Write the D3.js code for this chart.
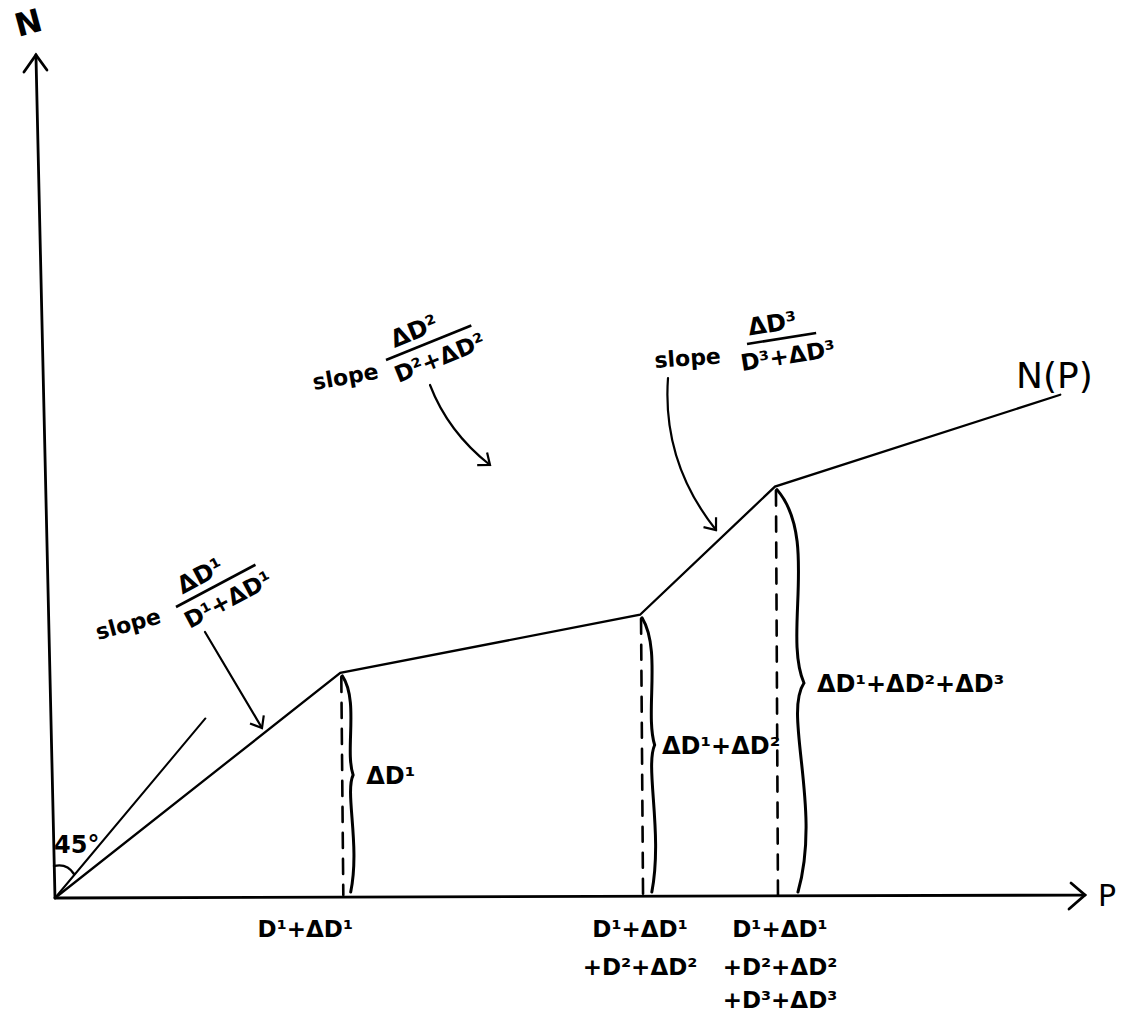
<!DOCTYPE html>
<html>
<head>
<meta charset="utf-8">
<title>N(P) sketch</title>
<script src="https://d3js.org/d3.v7.min.js"></script>
<style>
  body { margin: 0; background: #fff; }
  text { font-family: "DejaVu Sans", sans-serif; font-weight: bold; fill: #000; }
</style>
</head>
<body>
<div id="chart"></div>
<script>
// kink points of N(P), in chart units (P across, N up)
var kinkP = [0, 27.7, 56.8, 69.9, 97.6];
var kinkN = [0, 26.7, 33.6, 48.8, 59.7];
// the 45 degree guide line
var guideP = [0, 14.6];
var guideN = [0, 21.3];
// tick labels under the P axis, one array of lines per kink
var tickLabels = [
  ["D¹+ΔD¹"],
  ["D¹+ΔD¹", "+D²+ΔD²"],
  ["D¹+ΔD¹", "+D²+ΔD²", "+D³+ΔD³"]
];
// brace labels next to the dashed drops
var braceLabels = ["ΔD¹", "ΔD¹+ΔD²", "ΔD¹+ΔD²+ΔD³"];
// slope annotations: numerator / denominator
var slopeNum = ["ΔD¹", "ΔD²", "ΔD³"];
var slopeDen = ["D¹+ΔD¹", "D²+ΔD²", "D³+ΔD³"];

var W = 1127, H = 1016;
var x = d3.scaleLinear().domain([0, 100]).range([55, 1085]);
var y = d3.scaleLinear().domain([0, 100]).range([898, 55]);

var svg = d3.select("#chart").append("svg")
  .attr("width", W).attr("height", H);

// open arrowhead marker
svg.append("defs").append("marker")
  .attr("id", "head")
  .attr("viewBox", "-12 -9 14 18")
  .attr("refX", 0).attr("refY", 0)
  .attr("markerWidth", 14).attr("markerHeight", 18)
  .attr("markerUnits", "userSpaceOnUse")
  .attr("orient", "auto")
  .append("path")
  .attr("d", "M-10,-8 L0,0 L-10,8")
  .attr("fill", "none").attr("stroke", "#000").attr("stroke-width", 2.2);

var ink = svg.append("g").attr("stroke", "#000").attr("fill", "none")
  .attr("stroke-linecap", "round");

// axes (hand drawn, the N axis leans a little)
var topX = x(-1.85), topY = y(100);
ink.append("line")
  .attr("x1", x(0)).attr("y1", y(0))
  .attr("x2", topX).attr("y2", topY)
  .attr("stroke-width", 2.8);
ink.append("path")
  .attr("d", "M" + (topX - 12) + "," + (topY + 17) + " L" + topX + "," + topY +
    " L" + (topX + 11) + "," + (topY + 15))
  .attr("stroke-width", 2.8);
var endX = x(100), endY = y(0.35);
ink.append("line")
  .attr("x1", x(0)).attr("y1", y(0))
  .attr("x2", endX).attr("y2", endY)
  .attr("stroke-width", 2.8);
ink.append("path")
  .attr("d", "M" + (endX - 14) + "," + (endY - 12) + " L" + endX + "," + endY +
    " L" + (endX - 16) + "," + (endY + 14))
  .attr("stroke-width", 2.8);

svg.append("text").attr("x", 28).attr("y", 34)
  .attr("font-size", 32).attr("text-anchor", "middle")
  .attr("transform", "rotate(-15,28,22)").text("N");
svg.append("text").attr("x", 1098).attr("y", 906)
  .attr("font-size", 30).style("font-weight", "normal").text("P");

// 45 degree guide and its angle mark
ink.append("line")
  .attr("x1", x(guideP[0])).attr("y1", y(guideN[0]))
  .attr("x2", x(guideP[1])).attr("y2", y(guideN[1]))
  .attr("stroke-width", 2);
ink.append("path")
  .attr("d", "M" + (x(0) - 1) + "," + (y(0) - 32) + " Q" + (x(0) + 12) + "," + (y(0) - 35) +
    " " + (x(0) + 19) + "," + (y(0) - 24))
  .attr("stroke-width", 2.4);
svg.append("text").attr("x", 54).attr("y", 853)
  .attr("font-size", 24).text("45°");

// the N(P) polyline
var pts = kinkP.map(function (p, i) { return [p, kinkN[i]]; });
ink.append("path").datum(pts)
  .attr("d", d3.line().x(function (d) { return x(d[0]); }).y(function (d) { return y(d[1]); }))
  .attr("stroke-width", 2.3);
svg.append("text").attr("x", 1016).attr("y", 388)
  .attr("font-size", 36).style("font-weight", "normal").text("N(P)");

// dashed drops from the interior kinks
var inner = pts.slice(1, 4);
ink.selectAll(".drop").data(inner).enter().append("line")
  .attr("x1", function (d) { return x(d[0]) + 1; })
  .attr("y1", function (d) { return y(d[1]) + 4; })
  .attr("x2", function (d) { return x(d[0]) + 3; })
  .attr("y2", y(0) - 3)
  .attr("stroke-width", 2.6)
  .attr("stroke-dasharray", "15,11");

// curly braces to the right of each drop
var braceTip = [775, 745, 683];
var braceW = [12, 14, 30];
var labelGap = [26, 22, 42];
function brace(x0, y0, y1, ym, w) {
  return "M" + x0 + "," + y0 +
    " C" + (x0 + w * 1.4) + "," + (y0 + (ym - y0) * 0.25) + " " + (x0 + w * 0.2) + "," + (ym - (ym - y0) * 0.25) +
    " " + (x0 + w * 0.9) + "," + ym +
    " C" + (x0 + w * 0.2) + "," + (ym + (y1 - ym) * 0.15) + " " + (x0 + w * 1.5) + "," + (y1 - (y1 - ym) * 0.4) +
    " " + (x0 + w * 0.7) + "," + y1;
}
ink.selectAll(".brace").data(inner).enter().append("path")
  .attr("d", function (d, i) {
    return brace(x(d[0]) + 2, y(d[1]) + 3, y(0) - 6, braceTip[i], braceW[i]);
  })
  .attr("stroke-width", 3);
svg.selectAll(".blab").data(braceLabels).enter().append("text")
  .attr("x", function (d, i) { return x(inner[i][0]) + labelGap[i]; })
  .attr("y", function (d, i) { return braceTip[i] + 9; })
  .attr("font-size", 24)
  .text(function (d) { return d; });

// tick labels under the P axis
var tickShift = [-35, 0, 5];
var lineY = [937, 975, 1008];
tickLabels.forEach(function (lines, i) {
  var g = svg.append("text").attr("font-size", 23).attr("text-anchor", "middle");
  lines.forEach(function (s, j) {
    g.append("tspan")
      .attr("x", x(inner[i][0]) + tickShift[i])
      .attr("y", lineY[j])
      .text(s);
  });
});

// slope annotations: word position/angle, fraction bar start/angle
var wordAt = [[98, 640, -15], [314, 390, -10], [655, 368, -4]];
var fracAt = [[176, 607, -28], [386, 360, -22], [747, 344, -9]];
var barLen = [90, 92, 70];
slopeNum.forEach(function (num, i) {
  var a = wordAt[i], f = fracAt[i];
  svg.append("text").attr("font-size", 22)
    .attr("transform", "translate(" + a[0] + "," + a[1] + ") rotate(" + a[2] + ")")
    .text("slope");
  var g = svg.append("g").attr("transform", "translate(" + f[0] + "," + f[1] + ") rotate(" + f[2] + ")");
  g.append("line").attr("x1", 0).attr("x2", barLen[i]).attr("y1", 0).attr("y2", 0)
    .attr("stroke", "#000").attr("stroke-width", 2.6);
  g.append("text").attr("x", barLen[i] * 0.4).attr("y", -8).attr("font-size", 24)
    .attr("text-anchor", "middle").text(num);
  g.append("text").attr("x", barLen[i] * 0.55).attr("y", 26).attr("font-size", 23)
    .attr("text-anchor", "middle").text(slopeDen[i]);
});

// arrows from the annotations to the segments
var arrows = [
  "M205,632 L262,728",
  "M430,385 Q448,432 490,465",
  "M668,378 Q662,462 716,530"
];
ink.selectAll(".arrow").data(arrows).enter().append("path")
  .attr("d", function (d) { return d; })
  .attr("stroke-width", 2.2)
  .attr("marker-end", "url(#head)");
</script>
</body>
</html>
